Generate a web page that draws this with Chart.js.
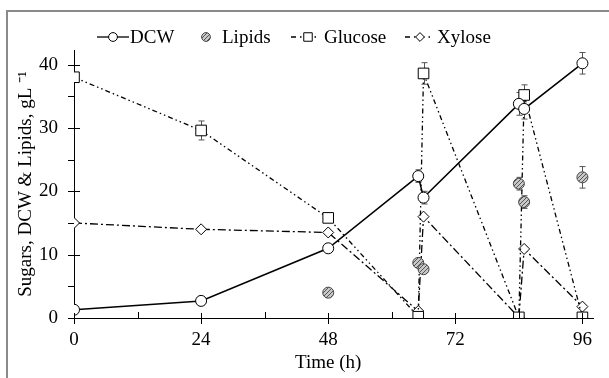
<!DOCTYPE html>
<html>
<head>
<meta charset="utf-8">
<script src="https://cdn.jsdelivr.net/npm/chart.js@4.4.1/dist/chart.umd.min.js"></script>
<style>
  html, body { margin: 0; padding: 0; background: #fff; }
  #wrap { width: 609px; height: 378px; position: relative; }
</style>
</head>
<body>
<div id="wrap"><canvas id="chart"></canvas></div>
<script>
  // ---- data ----
  const time = [0, 24, 48, 65, 66, 84, 85, 96];
  const dcw = [1.3, 2.7, 11.0, 22.4, 19.0, 33.8, 33.0, 40.2];
  const glucose = [38.0, 29.6, 15.8, 0.2, 38.6, 0.1, 35.2, 0.1];
  const xylose = [15.0, 14.0, 13.5, 1.1, 16.0, 0.1, 10.9, 1.8];
  const lipidTime = [48, 65, 66, 84, 85, 96];
  const lipids = [4.0, 8.7, 7.7, 21.2, 18.3, 22.2];

  // error bars (+/-)
  const dcwErr = [0, 0, 0, 1.0, 1.0, 1.8, 1.6, 1.7];
  const glucoseErr = [0, 1.5, 0, 0, 1.7, 0, 1.6, 0];
  const lipidErr = [0, 0, 0, 1.0, 1.0, 1.7];

  const xTicks = [0, 24, 48, 72, 96];
  const xMinor = [12, 36, 60, 84];
  const yTicks = [0, 10, 20, 30, 40];
  const yMinor = [5, 15, 25, 35];

  const FONT = "'Liberation Serif', 'Times New Roman', serif";
  const FS = 19;

  const pts = (xs, ys) => xs.map((x, i) => ({ x: x, y: ys[i] }));

  // hatched fill for the lipid markers
  function hatch() {
    const c = document.createElement('canvas');
    c.width = 4; c.height = 4;
    const g = c.getContext('2d');
    g.fillStyle = '#c8c8c8';
    g.fillRect(0, 0, 4, 4);
    g.strokeStyle = '#555';
    g.lineWidth = 1;
    g.beginPath();
    g.moveTo(0, 4); g.lineTo(4, 0);
    g.moveTo(-1, 1); g.lineTo(1, -1);
    g.moveTo(3, 5); g.lineTo(5, 3);
    g.stroke();
    return g.createPattern(c, 'repeat');
  }
  const lipidFill = hatch();

  const series = [
    { label: 'DCW', data: pts(time, dcw), err: dcwErr, dash: [], style: 'circle', r: 5.5 },
    { label: 'Lipids', data: pts(lipidTime, lipids), err: lipidErr, dash: null, style: 'circle', r: 5.5 },
    { label: 'Glucose', data: pts(time, glucose), err: glucoseErr, dash: [5, 3, 1.5, 3, 1.5, 3], style: 'rect', r: 7.5 },
    { label: 'Xylose', data: pts(time, xylose), err: null, dash: [8, 3, 2, 3], style: 'rectRot', r: 5.5 }
  ];

  // frame, ticks, axis titles, legend, error bars
  const decor = {
    id: 'decor',
    beforeDraw(chart) {
      const ctx = chart.ctx;
      ctx.save();
      ctx.strokeStyle = '#8a8a8a';
      ctx.lineWidth = 2;
      ctx.beginPath();
      ctx.moveTo(7, 378); ctx.lineTo(7, 11); ctx.lineTo(609, 11);
      ctx.stroke();
      ctx.restore();
    },
    beforeDatasetsDraw(chart) {
      const ctx = chart.ctx;
      const xs = chart.scales.x, ys = chart.scales.y;
      ctx.save();
      ctx.strokeStyle = '#555';
      ctx.lineWidth = 1;
      series.forEach(s => {
        if (!s.err) return;
        s.data.forEach((p, i) => {
          const e = s.err[i];
          if (!e) return;
          const px = Math.round(xs.getPixelForValue(p.x)) + 0.5;
          const top = ys.getPixelForValue(p.y + e);
          const bot = ys.getPixelForValue(Math.max(0, p.y - e));
          ctx.beginPath();
          ctx.moveTo(px, top); ctx.lineTo(px, bot);
          ctx.moveTo(px - 3, top); ctx.lineTo(px + 3, top);
          ctx.moveTo(px - 3, bot); ctx.lineTo(px + 3, bot);
          ctx.stroke();
        });
      });
      ctx.restore();
    },
    afterDraw(chart) {
      const ctx = chart.ctx;
      const xs = chart.scales.x, ys = chart.scales.y;
      const a = chart.chartArea;
      ctx.save();
      ctx.strokeStyle = '#000';
      ctx.lineWidth = 1;
      ctx.beginPath();
      xTicks.forEach(v => {
        const px = Math.round(xs.getPixelForValue(v)) + 0.5;
        ctx.moveTo(px, a.bottom - 5); ctx.lineTo(px, a.bottom + 6);
      });
      xMinor.forEach(v => {
        const px = Math.round(xs.getPixelForValue(v)) + 0.5;
        ctx.moveTo(px, a.bottom - 6); ctx.lineTo(px, a.bottom);
      });
      yTicks.forEach(v => {
        const py = Math.round(ys.getPixelForValue(v)) + 0.5;
        ctx.moveTo(a.left - 6, py); ctx.lineTo(a.left + 6, py);
      });
      yMinor.forEach(v => {
        const py = Math.round(ys.getPixelForValue(v)) + 0.5;
        ctx.moveTo(a.left - 6, py); ctx.lineTo(a.left, py);
      });
      ctx.stroke();

      // axis titles
      ctx.fillStyle = '#000';
      ctx.font = FS + 'px ' + FONT;
      ctx.textAlign = 'center';
      ctx.textBaseline = 'middle';
      ctx.fillText('Time (h)', xs.getPixelForValue(48), 363);
      ctx.save();
      ctx.translate(26, (a.top + a.bottom) / 2);
      ctx.rotate(-Math.PI / 2);
      ctx.fillText('Sugars, DCW & Lipids, gL \u207B\u00B9', 0, 0);
      ctx.restore();

      // legend
      const ly = 37;
      ctx.textAlign = 'left';
      ctx.lineWidth = 1.3;
      const items = [
        { s: series[0], x0: 97, x1: 129, mx: 113, tx: 130 },
        { s: series[1], x0: null, x1: null, mx: 206, tx: 222 },
        { s: series[2], x0: 291, x1: 320, mx: 308, tx: 324 },
        { s: series[3], x0: 405, x1: 433, mx: 420, tx: 437 }
      ];
      items.forEach(it => {
        const ds = chart.data.datasets[series.indexOf(it.s)];
        if (it.x0 !== null) {
          ctx.save();
          ctx.strokeStyle = '#000';
          ctx.setLineDash(it.s.dash.length ? [5, 4, 1.5, 4] : []);
          ctx.beginPath();
          ctx.moveTo(it.x0, ly); ctx.lineTo(it.x1, ly);
          ctx.stroke();
          ctx.restore();
        }
        ctx.save();
        ctx.fillStyle = ds.pointBackgroundColor;
        ctx.strokeStyle = ds.pointBorderColor;
        ctx.lineWidth = 1;
        Chart.helpers.drawPoint(ctx, { pointStyle: it.s.style, radius: it.s.r * 0.8, borderWidth: 1 }, it.mx, ly);
        ctx.restore();
        ctx.fillStyle = '#000';
        ctx.fillText(it.s.label, it.tx, ly + 1);
      });
      ctx.restore();
    }
  };

  new Chart(document.getElementById('chart').getContext('2d'), {
    type: 'line',
    data: {
      datasets: series.map(s => ({
        label: s.label,
        data: s.data,
        showLine: s.dash !== null,
        borderColor: '#000',
        borderWidth: s.dash && s.dash.length ? 1.3 : 1.5,
        borderDash: s.dash || [],
        pointStyle: s.style,
        pointRadius: s.r,
        pointHoverRadius: s.r,
        pointBackgroundColor: s.label === 'Lipids' ? lipidFill : '#fff',
        pointBorderColor: s.label === 'Lipids' ? '#444' : '#000',
        pointBorderWidth: 1,
        tension: 0,
        fill: false
      }))
    },
    options: {
      responsive: true,
      maintainAspectRatio: false,
      animation: false,
      events: [],
      layout: { padding: { left: 0, right: 16, top: 50, bottom: 0 } },
      plugins: {
        legend: { display: false },
        tooltip: { enabled: false }
      },
      scales: {
        x: {
          type: 'linear',
          min: 0,
          max: 98,
          afterFit: (s) => { s.height = 60; },
          afterBuildTicks: (s) => { s.ticks = xTicks.map(v => ({ value: v })); },
          grid: { display: false, drawTicks: false },
          border: { display: true, color: '#000', width: 1 },
          ticks: { font: { family: FONT, size: FS }, color: '#000', padding: 11, maxRotation: 0 }
        },
        y: {
          min: 0,
          max: 42.3,
          afterFit: (s) => { s.width = 74; },
          afterBuildTicks: (s) => { s.ticks = yTicks.map(v => ({ value: v })); },
          grid: { display: false, drawTicks: false },
          border: { display: true, color: '#000', width: 1 },
          ticks: { font: { family: FONT, size: FS }, color: '#000', padding: 16 }
        }
      }
    },
    plugins: [decor]
  });
</script>
</body>
</html>
